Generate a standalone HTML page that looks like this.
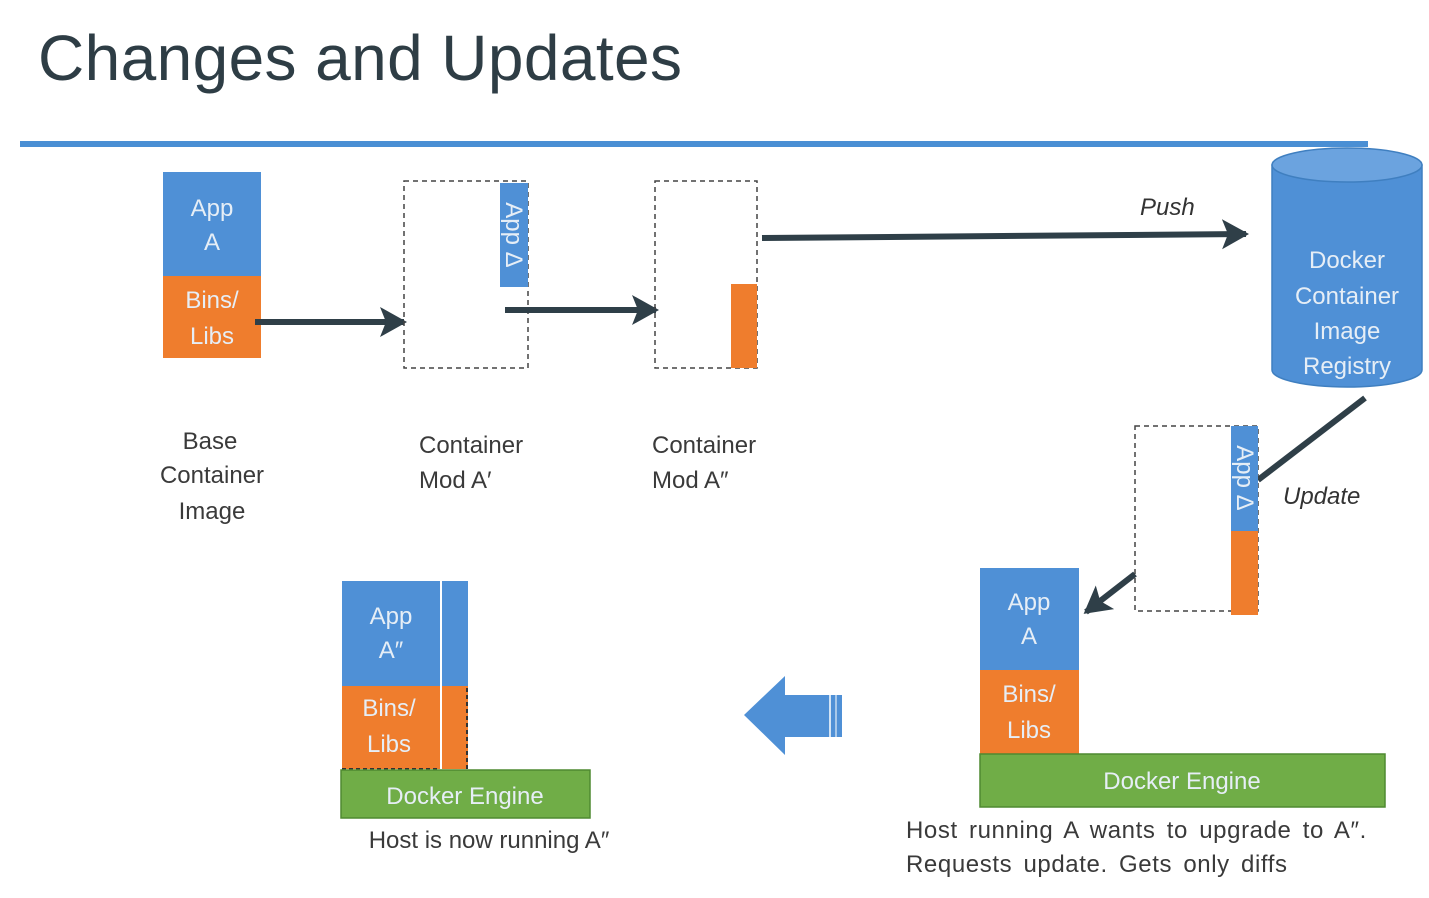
<!DOCTYPE html>
<html><head><meta charset="utf-8"><style>
html,body{margin:0;padding:0;background:#fff;}
svg{display:block;font-family:"Liberation Sans",sans-serif;}
.w{fill:#e6eef6;font-size:24px;text-anchor:middle;}
.k{fill:#3a3a3a;font-size:24px;}
.kc{fill:#3a3a3a;font-size:24px;text-anchor:middle;}
</style></head><body>
<svg width="1429" height="898" viewBox="0 0 1429 898">
<defs>
<marker id="ah" markerWidth="6" markerHeight="6" refX="4" refY="3" orient="auto" markerUnits="strokeWidth">
<path d="M0,0.5 L4.5,3 L0,5.5 L1,3 Z" fill="#2f3f48"/></marker>
</defs>
<text x="38" y="80" font-size="64" fill="#2e3d45" textLength="644">Changes and Updates</text>
<rect x="20" y="141" width="1348" height="6" fill="#4a8fd4"/>

<rect x="163" y="172" width="98" height="104" fill="#4f90d6"/>
<rect x="163" y="276" width="98" height="82" fill="#ef7d2d"/>
<text class="w" x="212" y="216">App</text><text class="w" x="212" y="250">A</text>
<text class="w" x="212" y="308">Bins/</text><text class="w" x="212" y="344">Libs</text>
<text class="kc" x="210" y="449">Base</text><text class="kc" x="212" y="483">Container</text><text class="kc" x="212" y="519">Image</text>

<line x1="255" y1="322" x2="404" y2="322" stroke="#2f3f48" stroke-width="6" marker-end="url(#ah)"/>

<rect x="404" y="181" width="124" height="187" fill="none" stroke="#444" stroke-width="1.5" stroke-dasharray="5,4"/>
<rect x="500" y="183" width="28" height="104" fill="#4f90d6"/>
<text class="w" transform="translate(506,235) rotate(90)" font-size="22">App Δ</text>
<text class="k" x="419" y="453">Container</text><text class="k" x="419" y="488">Mod A′</text>

<line x1="505" y1="310" x2="656" y2="310" stroke="#2f3f48" stroke-width="6" marker-end="url(#ah)"/>

<rect x="655" y="181" width="102" height="187" fill="none" stroke="#444" stroke-width="1.5" stroke-dasharray="5,4"/>
<rect x="731" y="284" width="26" height="84" fill="#ef7d2d"/>
<text class="k" x="652" y="453">Container</text><text class="k" x="652" y="488">Mod A″</text>

<line x1="762" y1="238" x2="1246" y2="234" stroke="#2f3f48" stroke-width="6" marker-end="url(#ah)"/>
<text x="1140" y="215" font-size="24" font-style="italic" fill="#333">Push</text>

<path d="M1272,165 L1272,370 A75,17 0 0 0 1422,370 L1422,165 Z" fill="#4f90d6" stroke="#3f7fc0" stroke-width="1.5"/>
<ellipse cx="1347" cy="165" rx="75" ry="17" fill="#6ba3df" stroke="#3f7fc0" stroke-width="1.5"/>
<text class="w" x="1347" y="268">Docker</text><text class="w" x="1347" y="304">Container</text>
<text class="w" x="1347" y="339">Image</text><text class="w" x="1347" y="374">Registry</text>

<line x1="1365" y1="398" x2="1258" y2="480" stroke="#2f3f48" stroke-width="6"/>
<text x="1283" y="504" font-size="24" font-style="italic" fill="#333">Update</text>

<rect x="1135" y="426" width="123" height="185" fill="none" stroke="#444" stroke-width="1.5" stroke-dasharray="5,4"/>
<rect x="1231" y="426" width="27" height="105" fill="#4f90d6"/>
<rect x="1231" y="531" width="27" height="84" fill="#ef7d2d"/>
<text class="w" transform="translate(1237,478) rotate(90)" font-size="22">App Δ</text>
<line x1="1135" y1="574" x2="1086" y2="612" stroke="#2f3f48" stroke-width="6" marker-end="url(#ah)"/>

<rect x="980" y="568" width="99" height="102" fill="#4f90d6"/>
<rect x="980" y="670" width="99" height="84" fill="#ef7d2d"/>
<rect x="980" y="754" width="405" height="53" fill="#70ad47" stroke="#4f8a30" stroke-width="1.5"/>
<text class="w" x="1029" y="610">App</text><text class="w" x="1029" y="644">A</text>
<text class="w" x="1029" y="702">Bins/</text><text class="w" x="1029" y="738">Libs</text>
<text class="w" x="1182" y="789" fill="#eef5d8">Docker Engine</text>
<text class="k" x="906" y="838" letter-spacing="0.6" word-spacing="4">Host running  A wants to upgrade  to A″.</text>
<text class="k" x="906" y="872" letter-spacing="0.6" word-spacing="4">Requests update.  Gets only diffs</text>

<path d="M744,715 L785,676 L785,695 L842,695 L842,737 L785,737 L785,755 Z" fill="#4f90d6"/>
<line x1="830" y1="695" x2="830" y2="737" stroke="#fff" stroke-width="1.5"/>
<line x1="836" y1="695" x2="836" y2="737" stroke="#fff" stroke-width="1"/>

<rect x="342" y="581" width="98" height="105" fill="#4f90d6"/>
<rect x="442" y="581" width="26" height="105" fill="#4f90d6"/>
<rect x="342" y="686" width="98" height="83" fill="#ef7d2d"/>
<rect x="442" y="686" width="26" height="83" fill="#ef7d2d"/>
<line x1="467" y1="688" x2="467" y2="769" stroke="#333" stroke-width="2" stroke-dasharray="4,3"/>
<line x1="342" y1="769" x2="440" y2="769" stroke="#333" stroke-width="2" stroke-dasharray="4,3"/>
<rect x="341" y="770" width="249" height="48" fill="#70ad47" stroke="#4f8a30" stroke-width="1.5"/>
<text class="w" x="391" y="624">App</text><text class="w" x="391" y="658">A″</text>
<text class="w" x="389" y="716">Bins/</text><text class="w" x="389" y="752">Libs</text>
<text class="w" x="465" y="804" fill="#eef5d8">Docker Engine</text>
<text class="kc" x="489" y="848">Host is now running  A″</text>
</svg>
</body></html>
